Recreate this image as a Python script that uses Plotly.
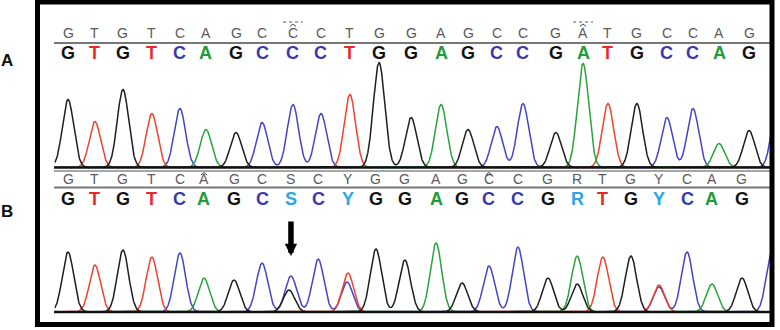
import numpy as np
import plotly.graph_objects as go

W, H = 780, 330

# ---------------- data ----------------
# Panel A: reference (wild type) trace
a_ref_letters = list("GTGTCAGCCCTGGAGCCGATGCCAG")
a_calls = list("GTGTCAGCCCTGGAGCCGATGCCAG")
a_pos = [0.0, 9.5, 19.4, 29.6, 39.5, 48.7, 59.3, 68.5, 79.4, 89.3, 99.5, 109.8,
         121.1, 131.7, 141.2, 151.4, 160.6, 172.2, 181.8, 190.6, 200.8, 211.4,
         220.6, 229.8, 240.4]
a_peak_base = list("GTGTCAGCCCTGGAGCCGATGCCAGC")
a_peak_pos = [0.0, 9.5, 19.4, 29.6, 39.5, 48.7, 59.3, 68.5, 79.4, 89.3, 99.5, 109.8,
              121.1, 131.7, 141.2, 151.4, 160.6, 172.2, 181.8, 190.6, 200.8, 211.4,
              220.6, 229.8, 240.4, 250.3]
a_peak_h = [68, 46, 78, 54, 59, 38, 35, 45, 63, 54, 73, 105, 50, 63, 38, 41, 64,
            35, 104, 64, 64, 50, 59, 24, 37, 60]

# Panel B: patient trace with heterozygous positions
b_ref_letters = list("GTGTCAGCSCYGGAGCCGRTGYCAG")
b_calls = list("GTGTCAGCSCYGGAGCCGRTGYCAG")
b_pos = [0.0, 9.5, 19.4, 29.6, 39.5, 48.0, 58.6, 68.5, 78.7, 88.3, 98.8, 108.7,
         118.9, 129.9, 139.1, 148.6, 158.8, 169.4, 179.7, 188.8, 198.7, 208.6,
         218.5, 227.3, 237.9]
b_peak_base = list("GTGTCAGCCGCTCGGAGCCGAGTGTCCAGC")
b_peak_pos = [0.0, 9.5, 19.4, 29.6, 39.5, 48.0, 58.6, 68.5, 78.7, 78.0, 88.3,
              98.8, 98.5, 108.7, 118.9, 129.9, 139.1, 148.6, 158.8, 169.4,
              179.7, 179.7, 188.8, 198.7, 208.6, 208.6, 218.5, 227.3, 237.9, 248.5]
b_peak_h = [60, 47, 62, 55, 59, 34, 32, 49, 36, 22, 53, 39, 30, 63, 52, 69, 29,
            46, 65, 34, 56, 28, 55, 56, 27, 25, 60, 28, 34, 60]

mutation_index = 8          # position of the arrow (S call in panel B)
marked_a = [8, 18]          # positions with marks above the reference letters
marked_b = [5, 15]

# ---------------- styling ----------------
trace_color = {"G": "#1e1e1e", "A": "#2aa33a", "T": "#f0402e", "C": "#4444c8"}
call_color = {"G": "#111111", "A": "#1f9a3c", "T": "#e8282a", "C": "#3838b0",
              "S": "#2ea6e6", "Y": "#2ea6e6", "R": "#2ea6e6"}
SIGMA = 2.0

def py(px):
    return 1 - px / H

def pxx(px):
    return px / W

X0_PX, PX_PER_UNIT = 68.0, 2.833
X_RIGHT_PX = 772.0
x_range = [-X0_PX / PX_PER_UNIT, (X_RIGHT_PX - X0_PX) / PX_PER_UNIT]
trace_start = (55 - X0_PX) / PX_PER_UNIT

xs = np.arange(trace_start, x_range[1], 0.05)

def channel_curve(bases, pos, hts, ch):
    y = np.zeros_like(xs)
    for b, p, h in zip(bases, pos, hts):
        if b == ch:
            y += h * np.exp(-0.5 * ((xs - p) / SIGMA) ** 2)
    return y

fig = go.Figure()
for ch in ["C", "T", "A", "G"]:
    fig.add_trace(go.Scatter(x=xs, y=channel_curve(a_peak_base, a_peak_pos, a_peak_h, ch),
                             mode="lines", line=dict(color=trace_color[ch], width=1.5),
                             xaxis="x", yaxis="y", hoverinfo="skip", showlegend=False))
for ch in ["C", "T", "A", "G"]:
    fig.add_trace(go.Scatter(x=xs, y=channel_curve(b_peak_base, b_peak_pos, b_peak_h, ch),
                             mode="lines", line=dict(color=trace_color[ch], width=1.5),
                             xaxis="x", yaxis="y2", hoverinfo="skip", showlegend=False))

ann = []
shapes = []
THIN_FONT = "Liberation Sans, Arial, sans-serif"
BOLD_FONT = "Liberation Sans Narrow, Liberation Sans, Arial, sans-serif"

def letters(ref, calls, pos, y_top, y_bold, marked, mark_y):
    for r, c, p in zip(ref, calls, pos):
        ann.append(dict(x=p, y=py(y_top), xref="x", yref="paper", text=r, showarrow=False,
                        font=dict(family=THIN_FONT, size=14, color="#5a5a5a"),
                        xanchor="center", yanchor="middle", borderpad=0))
        ann.append(dict(x=p, y=py(y_bold), xref="x", yref="paper", text="<b>%s</b>" % c,
                        showarrow=False,
                        font=dict(family=BOLD_FONT, size=18, color=call_color[c]),
                        xanchor="center", yanchor="middle", borderpad=0))
    for i in marked:
        p = pos[i]
        shapes.append(dict(type="path", xref="x", yref="paper",
                           path="M %f,%f L %f,%f L %f,%f" % (p - 1.1, py(mark_y + 1.5), p, py(mark_y - 1),
                                                           p + 1.1, py(mark_y + 1.5)),
                           line=dict(color="#444444", width=1)))

letters(a_ref_letters, a_calls, a_pos, 33, 53, marked_a, 25)
letters(b_ref_letters, b_calls, b_pos, 179, 199, marked_b, 173.5)

# dotted marks over the marked reference letters in panel A
for i in marked_a:
    p = a_pos[i]
    shapes.append(dict(type="line", xref="x", yref="paper", x0=p - 3.5, x1=p + 3.5,
                       y0=py(22), y1=py(22), line=dict(color="#555555", width=1, dash="dot")))

# panel labels
ann.append(dict(x=pxx(7), y=py(61), xref="paper", yref="paper", text="<b>A</b>",
                showarrow=False, font=dict(family="Liberation Sans", size=17, color="#111"),
                xanchor="center", yanchor="middle"))
ann.append(dict(x=pxx(7), y=py(211), xref="paper", yref="paper", text="<b>B</b>",
                showarrow=False, font=dict(family="Liberation Sans", size=17, color="#111"),
                xanchor="center", yanchor="middle"))

# arrow at the mutation
ann.append(dict(x=b_pos[mutation_index], y=py(256), xref="x", yref="paper", text="",
                showarrow=True, ax=0, ay=-36, arrowhead=2, arrowwidth=5.5, arrowsize=0.45,
                arrowcolor="#000000"))

def hline(ypx, color, width, x0=54, x1=771):
    shapes.append(dict(type="line", xref="paper", yref="paper", x0=pxx(x0), x1=pxx(x1),
                       y0=py(ypx), y1=py(ypx), line=dict(color=color, width=width),
                       layer="above"))

hline(43, "#777777", 2)
hline(167.5, "#111111", 2.5)
hline(171, "#888888", 1.5)
hline(187.5, "#777777", 2)
hline(312, "#111111", 2.5)

# outer frame
shapes.append(dict(type="rect", xref="paper", yref="paper", x0=pxx(37.5), x1=pxx(772),
                   y0=py(324.5), y1=py(2), line=dict(color="#000000", width=5),
                   layer="above"))

fig.update_layout(
    width=W, height=H, margin=dict(l=0, r=0, t=0, b=0),
    paper_bgcolor="white", plot_bgcolor="white",
    xaxis=dict(range=x_range, domain=[0, X_RIGHT_PX / W], visible=False, fixedrange=True),
    yaxis=dict(range=[0, 110], domain=[py(167.5), py(57.5)], visible=False, fixedrange=True),
    yaxis2=dict(range=[0, 110], domain=[py(312), py(202)], visible=False, fixedrange=True),
    annotations=ann, shapes=shapes, showlegend=False,
)

fig.write_html("out.html", post_script="document.body.style.margin='0px';",
               config={"displayModeBar": False})
